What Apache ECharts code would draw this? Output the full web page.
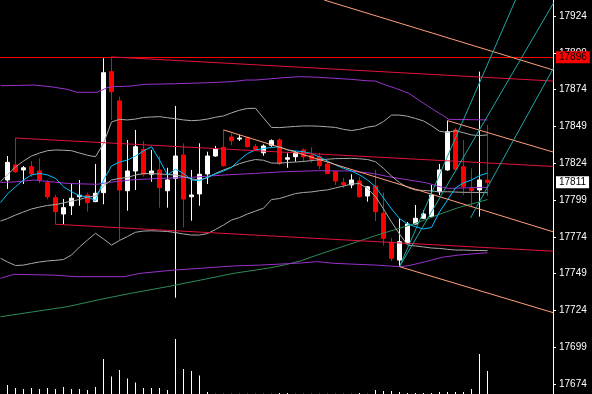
<!DOCTYPE html>
<html><head><meta charset="utf-8">
<script src="https://cdn.jsdelivr.net/npm/echarts@6/dist/echarts.min.js"></script>
<style>html,body{margin:0;padding:0;background:#000;}#c{width:592px;height:394px;}</style>
</head><body><div id="c"></div>
<script>
// ---- data ----
const barIndex = [0,1,2,3,4,5,6,7,8,9,10,11,12,13,14,15,16,17,18,19,20,21,22,23,24,25,26,27,28,29,30,31,32,33,34,35,36,37,38,39,40,41,42,43,44,45,46,47,48,49,50,51,52,53,54,55,56,57,58,59,60];
// [open, close, low, high]
const candles = [
[17812.6,17824.6,17806.5,17828.9],[17822.8,17818.2,17817.3,17841.3],[17819.4,17820.9,17809.9,17822.1],[17821.6,17816.7,17814.8,17825.5],
[17818.7,17812.6,17810.4,17827.3],[17810.8,17801.2,17799.5,17812.6],[17800.6,17791.1,17782.5,17802.4],[17789.5,17793.8,17782.5,17799.7],
[17795.1,17800.2,17788.8,17809.9],[17801.2,17802.2,17795.1,17812.6],[17802.4,17797.2,17791.1,17804.0],[17797.9,17803.6,17797.5,17823.5],
[17804.0,17885.5,17796.1,17895.3],[17886.2,17872.6,17853.4,17896.4],[17866.3,17805.8,17771.8,17869.2],[17805.3,17818.7,17791.7,17839.8],
[17818.7,17835.2,17805.8,17846.6],[17833.4,17816.5,17814.8,17839.1],[17816.5,17818.7,17811.4,17833.0],[17819.4,17807.4,17793.8,17828.9],
[17805.3,17812.6,17793.8,17820.9],[17813.7,17828.9,17732.6,17862.9],[17829.6,17799.7,17780.5,17837.5],[17801.2,17802.4,17784.9,17819.4],
[17803.1,17816.5,17795.1,17837.5],[17816.7,17828.9,17809.9,17831.8],[17828.9,17833.7,17828.4,17835.7],[17834.8,17822.3,17821.6,17846.6],
[17841.8,17839.3,17836.4,17844.3],[17840.4,17841.1,17839.1,17843.2],[17841.3,17835.2,17834.8,17842.0],[17835.2,17833.0,17832.6,17837.0],
[17831.1,17835.7,17829.1,17836.8],[17836.2,17839.3,17835.2,17840.2],[17839.8,17823.9,17822.8,17840.9],[17826.7,17827.7,17820.9,17830.7],
[17828.4,17831.1,17825.0,17832.3],[17833.0,17828.4,17824.6,17834.1],[17829.4,17826.7,17824.3,17834.8],[17828.4,17822.3,17819.9,17831.1],
[17823.5,17816.9,17816.5,17825.7],[17818.2,17811.9,17809.2,17818.7],[17810.8,17809.4,17807.0,17814.2],[17809.2,17812.6,17807.0,17816.5],
[17811.9,17801.2,17800.6,17814.8],[17801.7,17808.0,17797.9,17808.5],[17808.5,17791.1,17784.7,17819.4],[17790.0,17773.0,17768.0,17804.2],
[17770.3,17759.4,17757.6,17773.4],[17758.2,17770.7,17753.7,17786.6],[17769.6,17782.7,17769.1,17784.1],[17782.7,17786.6,17782.4,17795.6],
[17786.6,17789.5,17786.1,17792.2],[17787.7,17802.4,17787.4,17809.2],[17804.6,17819.4,17802.4,17823.5],[17819.4,17845.4,17818.9,17852.9],
[17846.6,17819.9,17819.5,17848.1],[17821.6,17808.0,17802.4,17839.8],[17806.7,17805.5,17794.5,17820.5],[17805.8,17812.6,17787.7,17886.2],
[17812.5,17811.0,17801.7,17850.0]
];
const volumes = [180,120,100,120,100,120,100,140,100,100,80,140,700,350,480,310,228,120,120,120,80,1100,500,460,372,40,4,4,4,4,4,4,4,4,20,20,4,4,4,4,4,4,4,4,20,4,80,60,60,40,20,20,20,20,40,40,40,40,100,800,460];

const leftEdge = -0.875;
const maFastEdge = 17797.2;
const maFast = [17803.1,17808.0,17812.6,17816.0,17817.1,17816.0,17813.7,17808.0,17804.6,17801.9,17801.2,17798.5,17812.6,17822.1,17824.8,17826.2,17828.9,17832.3,17835.2,17826.2,17816.0,17819.9,17817.1,17812.6,17812.1,17814.6,17816.7,17818.7,17821.1,17826.2,17830.6,17833.0,17834.0,17834.7,17835.2,17833.0,17832.3,17831.8,17830.6,17828.2,17825.5,17822.8,17820.5,17818.7,17816.0,17812.6,17808.0,17800.4,17792.9,17786.4,17782.7,17780.9,17779.3,17780.3,17790.9,17799.0,17807.2,17810.6,17812.6,17815.6,17817.3];
const bbUpperEdge = 17811.4;
const bbUpper = [17816.2,17821.4,17825.5,17828.9,17830.9,17832.5,17833.0,17832.8,17832.5,17830.9,17829.4,17828.4,17837.4,17852.0,17853.8,17853.4,17854.0,17855.1,17855.4,17855.6,17854.9,17854.2,17853.4,17852.9,17853.2,17854.0,17855.2,17856.1,17858.2,17860.0,17861.2,17861.3,17854.7,17848.3,17848.2,17848.6,17849.0,17849.3,17849.3,17849.1,17848.7,17848.3,17847.0,17846.2,17847.0,17848.5,17849.3,17852.3,17856.7,17856.7,17855.9,17854.4,17852.7,17849.5,17845.7,17844.9,17846.1,17844.7,17843.2,17842.8,17843.2];
const bbMiddleEdge = 17784.7;
const bbMiddle = [17786.4,17788.8,17790.9,17792.9,17794.2,17795.3,17795.9,17797.0,17798.3,17799.3,17801.0,17801.7,17808.5,17812.6,17813.7,17814.3,17816.0,17817.0,17816.9,17816.7,17816.3,17816.0,17814.9,17813.3,17812.6,17814.1,17817.1,17819.4,17821.4,17823.7,17825.3,17826.5,17826.0,17824.1,17824.0,17824.5,17824.8,17825.2,17825.8,17826.3,17826.7,17827.1,17827.2,17827.3,17827.0,17826.5,17825.0,17820.5,17815.3,17810.8,17807.6,17805.8,17805.5,17805.1,17804.6,17804.6,17804.4,17804.2,17804.2,17804.1,17804.0];
const bbLowerEdge = 17759.4;
const bbLower = [17756.9,17754.5,17754.8,17755.9,17756.9,17757.6,17758.0,17758.6,17761.6,17767.1,17771.8,17776.4,17772.5,17768.4,17771.5,17774.2,17777.1,17777.9,17778.1,17777.9,17777.6,17776.9,17775.9,17775.2,17775.2,17776.2,17779.0,17782.0,17785.4,17787.1,17789.5,17791.5,17793.4,17799.3,17800.0,17801.7,17803.4,17804.1,17804.5,17805.3,17805.9,17807.2,17808.5,17809.9,17810.2,17806.8,17801.4,17792.9,17784.1,17775.9,17768.4,17767.8,17767.1,17766.4,17766.1,17765.5,17765.0,17765.0,17764.8,17764.7,17764.6];

const envUpper = [[-0.875,17876.6],[3.29,17877.1],[5.375,17876.0],[7.46,17874.2],[8.71,17872.2],[11.21,17872.2],[12.46,17875.3],[13.29,17876.0],[15.375,17876.4],[17.25,17877.6],[21,17878.0],[25.16,17878.7],[28.09,17879.4],[29.75,17880.5],[31,17880.5],[34.54,17882.1],[36.625,17882.8],[38.71,17882.4],[40.79,17881.7],[42.875,17881.0],[44.96,17880.0],[46,17879.8],[47.25,17877.1],[48.5,17874.9],[50.16,17871.5],[51.41,17866.9],[52.66,17862.4],[54.34,17856.7],[55.16,17853.8],[60,17853.4]];
const envMiddle = [[-0.875,17810.8],[1.21,17811.4],[3.29,17812.6],[5.375,17811.4],[7.46,17810.3],[9.54,17809.9],[11.21,17809.7],[12.46,17810.8],[15.375,17812.6],[18.91,17813.7],[23.09,17814.4],[25.16,17815.3],[27.25,17816.0],[31,17817.1],[34.54,17818.2],[38.71,17818.9],[42.875,17818.7],[44.96,17817.5],[46,17816.7],[47.66,17814.8],[50.16,17812.6],[52.25,17810.8],[54.34,17807.6],[55.16,17806.9],[60,17807.6]];
const envLower = [[-0.875,17745.8],[0.79,17748.5],[5.59,17748.0],[8.71,17746.9],[14.54,17746.9],[16.625,17749.2],[20.79,17751.4],[24.125,17752.6],[28.29,17754.2],[31.625,17754.8],[36.625,17756.2],[38.71,17757.1],[40.79,17756.0],[42.875,17755.5],[46,17754.8],[49.125,17753.7],[50.16,17754.4],[52.25,17757.1],[54.34,17760.1],[56.41,17761.6],[60,17763.2]];
const maSlow = [[-0.875,17719.7],[3.29,17723.1],[7.46,17726.5],[11.625,17731.5],[15.79,17736.0],[19.96,17740.1],[24.125,17744.6],[28.29,17749.2],[32.46,17752.6],[34.54,17754.8],[36.625,17757.6],[38.71,17761.6],[42.46,17768.4],[46.625,17775.9],[50.79,17782.7],[54.34,17790.0],[56.41,17793.9],[58.5,17797.0],[60,17799.3]];

const channelLines = [[[13,17896.2],[68.25,17879.8]],[[1,17841.1],[68.25,17821.8]],[[6,17782.5],[68.25,17764.2]]];
const salmonLines = [[[39.575,17934.87],[68.25,17887.25]],[[55,17852.9],[68.25,17831.5]],[[27,17846.6],[68.25,17777.3]],[[49,17753.7],[68.25,17722.4]]];
const tealLines = [[[49,17753.7],[63.5,17934.87]],[[49,17753.7],[68.25,17932.8]],[[57.875,17786.8],[68.25,17888.7]]];

const tickLabels = [17674,17699,17724,17749,17774,17799,17824,17849,17874,17899,17924];
const askPrice = 17896;
const bidPrice = 17811;

// ---- chart ----
const chart = echarts.init(document.getElementById('c'), null, {renderer:'canvas'});
function lineSeries(data, color, z){
  return {type:'line', xAxisIndex:0, yAxisIndex:0, data:data, showSymbol:false, symbol:'none',
    lineStyle:{color:color, width:1}, itemStyle:{color:color}, z:z, silent:true, animation:false};
}
function withEdge(edge, arr){ return [[leftEdge, edge]].concat(barIndex.map((x,i)=>[x, arr[i]])); }
const series = [];
series.push({type:'bar', xAxisIndex:0, yAxisIndex:1, barWidth:1, data:barIndex.map((x,i)=>[x, volumes[i]]),
  itemStyle:{color:'#ffffff'}, z:1, silent:true});
series.push({type:'candlestick', xAxisIndex:0, yAxisIndex:0, barWidth:4,
  data:barIndex.map((x,i)=>[x].concat(candles[i])),
  itemStyle:{color:'#ffffff', color0:'#ff0000', borderColor:'#ffffff', borderColor0:'#ff0000', borderWidth:1},
  z:2, silent:true,
  markLine:{silent:true, symbol:['none','none'], animation:false,
    data:[
      {yAxis:askPrice, lineStyle:{color:'#ff0000', width:1, type:'solid'},
       label:{show:true, position:'end', distance:3, formatter:String(askPrice), color:'#000', backgroundColor:'#ff0000',
              padding:[1,3,1,3], fontFamily:'Liberation Sans', fontSize:10}},
      {yAxis:bidPrice, lineStyle:{color:'rgba(0,0,0,0)', width:1, type:'solid'},
       label:{show:true, position:'end', distance:3, formatter:String(bidPrice), color:'#000', backgroundColor:'#ffffff',
              padding:[1,3,1,3], fontFamily:'Liberation Sans', fontSize:10}}
    ]}
});
series.push(lineSeries(maSlow, '#2e8b57', 3));
series.push(lineSeries(envUpper, '#9932cc', 3));
series.push(lineSeries(envMiddle, '#9932cc', 3));
series.push(lineSeries(envLower, '#9932cc', 3));
series.push(lineSeries(withEdge(bbUpperEdge, bbUpper), '#a9a9a9', 3));
series.push(lineSeries(withEdge(bbMiddleEdge, bbMiddle), '#a9a9a9', 3));
series.push(lineSeries(withEdge(bbLowerEdge, bbLower), '#a9a9a9', 3));
series.push(lineSeries(withEdge(maFastEdge, maFast), '#00bfff', 4));
channelLines.forEach(l=>series.push(lineSeries(l, '#e0143c', 5)));
salmonLines.forEach(l=>series.push(lineSeries(l, '#ffa07a', 5)));
tealLines.forEach(l=>series.push(lineSeries(l, '#20a8a8', 5)));

chart.setOption({
  backgroundColor:'#000000',
  animation:false,
  grid:[
    {left:0, top:0, width:553, height:394},
    {left:0, top:16, width:553, height:368}
  ],
  xAxis:[
    {type:'value', gridIndex:0, min:-0.9375, max:68.1875, show:false},
    {type:'value', gridIndex:1, min:0, max:1, show:false}
  ],
  yAxis:[
    {type:'value', gridIndex:0, min:17667.21, max:17934.87, position:'right',
     axisLine:{show:true, onZero:false, lineStyle:{color:'#ffffff', width:1}}, axisTick:{show:false}, axisLabel:{show:false}, splitLine:{show:false}},
    {type:'value', gridIndex:0, min:0, max:7880, show:false, axisLine:{onZero:false}, splitLine:{show:false}},
    {type:'value', gridIndex:1, min:tickLabels[0], max:tickLabels[tickLabels.length-1], interval:25, position:'right',
     axisLine:{show:false, onZero:false}, axisTick:{show:true, length:3, lineStyle:{color:'#ffffff'}},
     axisLabel:{show:true, color:'#ffffff', fontFamily:'Liberation Sans', fontSize:10, margin:6, showMinLabel:true, showMaxLabel:true,
                formatter:function(v){ return String(Math.round(v)); }},
     splitLine:{show:false}}
  ],
  series:series
});
</script></body></html>
